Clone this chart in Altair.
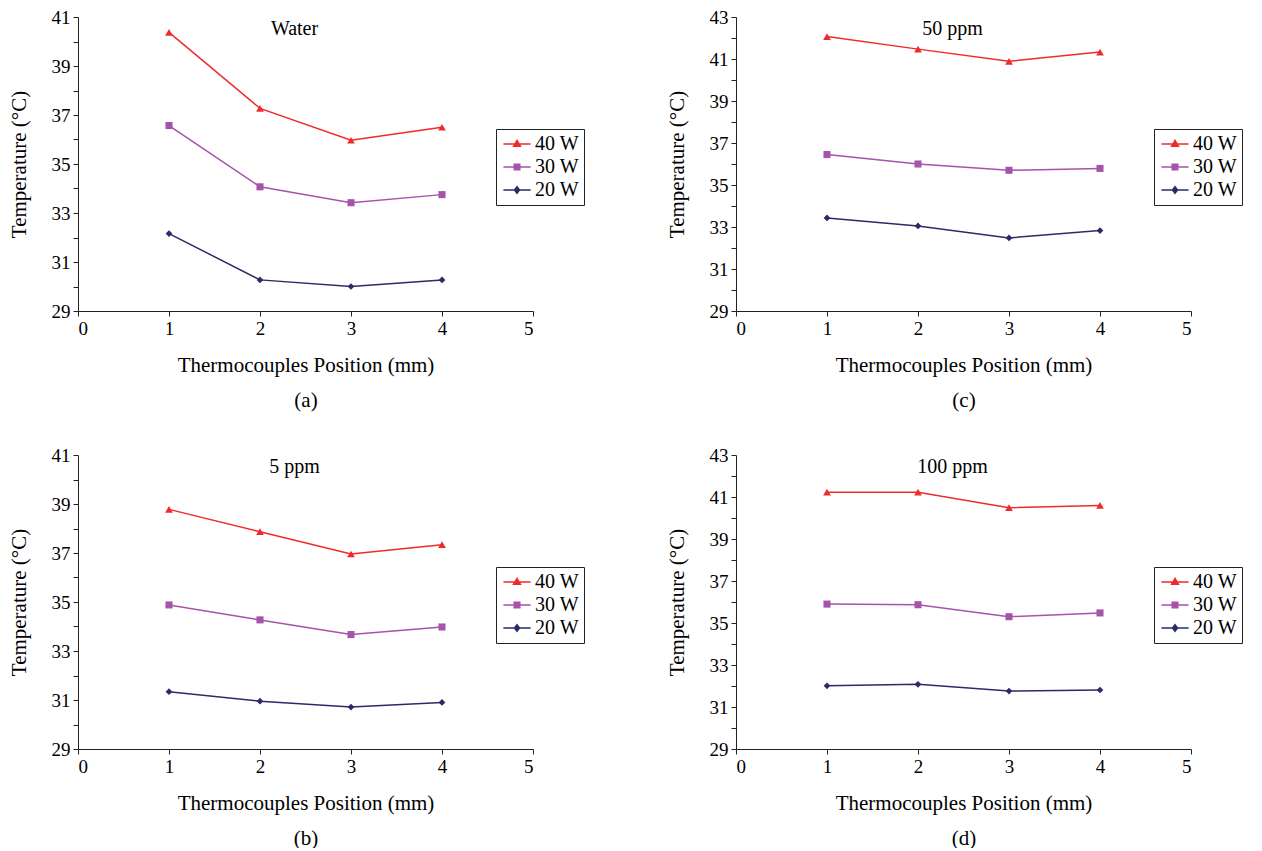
import altair as alt
import pandas as pd

positions = [1, 2, 3, 4]
series = ["40 W", "30 W", "20 W"]

water_40 = [40.37, 37.27, 35.97, 36.50]
water_30 = [36.57, 34.07, 33.42, 33.75]
water_20 = [32.16, 30.27, 30.00, 30.27]

ppm5_40 = [38.78, 37.87, 36.96, 37.34]
ppm5_30 = [34.88, 34.27, 33.67, 33.98]
ppm5_20 = [31.34, 30.95, 30.71, 30.90]

ppm50_40 = [42.07, 41.47, 40.89, 41.33]
ppm50_30 = [36.45, 36.00, 35.70, 35.79]
ppm50_20 = [33.43, 33.05, 32.48, 32.83]

ppm100_40 = [41.23, 41.23, 40.49, 40.60]
ppm100_30 = [35.90, 35.87, 35.30, 35.48]
ppm100_20 = [32.01, 32.08, 31.76, 31.81]

colors = ["#f02a2a", "#a653ab", "#2b2b68"]
marker_shapes = ["triangle-up", "square", "diamond"]
marker_sizes = [60, 50, 45]
legend_paths = [
    "M-1.6,0H1.6M0,-0.42L0.4,0.26H-0.4Z",
    "M-1.6,0H1.6M-0.33,-0.33H0.33V0.33H-0.33Z",
    "M-1.6,0H1.6M0,-0.38L0.3,0L0,0.38L-0.3,0Z",
]

FONT = "Liberation Serif"
NBSP = "\u00a0"


def panel(title, sub, s40, s30, s20, ymax):
    df = pd.DataFrame({
        "pos": positions * 3,
        "temp": s40 + s30 + s20,
        "series": [s for s in series for _ in positions],
    })
    x = alt.X("pos:Q",
              scale=alt.Scale(domain=[0, 5], nice=False, zero=False),
              axis=alt.Axis(values=[0, 1, 2, 3, 4, 5], format="d",
                            title=["Thermocouples Position (mm)", sub],
                            titleLineHeight=35, titlePadding=16,
                            tickSize=5, labelPadding=3))
    y = alt.Y("temp:Q",
              scale=alt.Scale(domain=[29, ymax], nice=False, zero=False),
              axis=alt.Axis(values=list(range(29, ymax + 1)),
                            labelExpr="datum.value % 2 == 1 ? datum.label : ''",
                            title="Temperature (°C)", titlePadding=22,
                            tickSize=5, labelPadding=3))
    cscale = alt.Scale(domain=series, range=colors)
    legend = alt.Legend(
        title=None, orient="none", legendX=418, legendY=112,
        labelFont=FONT, labelFontSize=20, labelColor="black",
        labelExpr="datum.label + '" + NBSP * 3 + "'",
        symbolSize=289, symbolOffset=6, labelOffset=8,
        symbolStrokeWidth=1.5, symbolOpacity=1,
        rowPadding=3, padding=5,
        strokeColor="#222222",
    )
    leg = alt.Chart(df).mark_point(filled=True, opacity=0, size=289, strokeWidth=1.5).encode(
        x=x, y=y,
        color=alt.Color("series:N", scale=cscale, legend=legend),
        stroke=alt.Stroke("series:N", scale=alt.Scale(domain=series, range=colors), legend=legend),
        shape=alt.Shape("series:N", scale=alt.Scale(domain=series, range=legend_paths), legend=legend),
    )
    line = alt.Chart(df).mark_line(strokeWidth=1.5).encode(
        x=x, y=y, color=alt.Color("series:N", scale=cscale, legend=legend))
    layers = [leg, line]
    for s, shp, sz in zip(series, marker_shapes, marker_sizes):
        layers.append(
            alt.Chart(df).transform_filter(alt.datum.series == s)
            .mark_point(filled=True, opacity=1, shape=shp, size=sz)
            .encode(x=x, y=y, color=alt.Color("series:N", scale=cscale, legend=legend))
        )
    return alt.layer(*layers).properties(
        width=455, height=294,
        title=alt.TitleParams(text=title, font=FONT, fontSize=20, fontWeight="normal",
                              color="black", anchor="middle", dx=-11, dy=22, offset=-19,
                              baseline="middle"),
    )


a = panel("Water", "(a)", water_40, water_30, water_20, 41)
c = panel("50 ppm", "(c)", ppm50_40, ppm50_30, ppm50_20, 43)
b = panel("5 ppm", "(b)", ppm5_40, ppm5_30, ppm5_20, 41)
d = panel("100 ppm", "(d)", ppm100_40, ppm100_30, ppm100_20, 43)

ind = dict(color="independent", shape="independent", stroke="independent")
top = alt.hconcat(a, c, spacing=81).resolve_scale(**ind).resolve_legend(**ind)
bottom = alt.hconcat(b, d, spacing=81).resolve_scale(**ind).resolve_legend(**ind)

chart = alt.vconcat(top, bottom, spacing=36).resolve_scale(**ind).resolve_legend(**ind).properties(
    padding={"left": 0, "top": 0, "right": 0, "bottom": 0},
    background="white",
).configure_view(stroke=None).configure_axis(
    grid=False,
    domainColor="#222222", domainWidth=1,
    tickColor="#222222", tickWidth=1,
    labelFont=FONT, labelFontSize=19, labelColor="black",
    titleFont=FONT, titleFontSize=21, titleFontWeight="normal", titleColor="black",
).configure_legend(
    labelFont=FONT, labelFontSize=20, labelColor="black",
    strokeColor="#222222",
)

chart.save("out.html", embed_options={"renderer": "svg", "actions": False})
